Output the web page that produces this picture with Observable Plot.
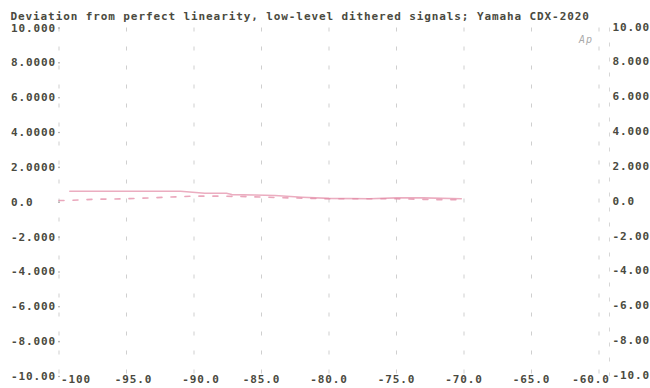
<!DOCTYPE html>
<html>
<head>
<meta charset="utf-8">
<script src="https://cdn.jsdelivr.net/npm/d3@7"></script>
<script src="https://cdn.jsdelivr.net/npm/@observablehq/plot@0.6"></script>
<style>
  html, body { margin: 0; padding: 0; background: #fff; }
</style>
</head>
<body>
<div id="chart"></div>
<script>
const title = "Deviation from perfect linearity, low-level dithered signals; Yamaha CDX-2020";
const xTicks = [-100, -95, -90, -85, -80, -75, -70, -65, -60];
const xLabels = ["-100", "-95.0", "-90.0", "-85.0", "-80.0", "-75.0", "-70.0", "-65.0", "-60.0"];
const yTicks = [10, 8, 6, 4, 2, 0, -2, -4, -6, -8, -10];
const yLabelsLeft = ["10.000", "8.0000", "6.0000", "4.0000", "2.0000", "0.0", "-2.000", "-4.000", "-6.000", "-8.000", "-10.00"];
const yLabelsRight = ["10.00", "8.000", "6.000", "4.000", "2.000", "0.0", "-2.00", "-4.00", "-6.00", "-8.00", "-10.0"];

// solid trace (one channel)
const solidX = [-99.2, -95, -91, -89.2, -87.6, -87.2, -85.5, -84, -82, -80, -77, -75, -73, -70.2];
const solidY = [0.63, 0.63, 0.63, 0.52, 0.52, 0.44, 0.42, 0.39, 0.29, 0.22, 0.2, 0.25, 0.25, 0.2];
// dashed trace (other channel)
const dashedX = [-100, -99.3, -97.5, -95, -90, -88, -86, -83, -80, -77, -75, -72, -70.2];
const dashedY = [0.10, 0.10, 0.17, 0.20, 0.35, 0.35, 0.32, 0.25, 0.20, 0.20, 0.20, 0.15, 0.15];

const solid = solidX.map((x, i) => ({x, y: solidY[i]}));
const dashed = dashedX.map((x, i) => ({x, y: dashedY[i]}));
const ticks = xTicks.map((x, i) => ({x, label: xLabels[i]}));
const yl = yTicks.map((y, i) => ({y, left: yLabelsLeft[i], right: yLabelsRight[i]}));

const ink = "#4a4a40";
const pink = "#e38aa5";

const xLabelMark = (filter, dx) => Plot.text(ticks.filter(filter), {
  x: "x", text: "label", frameAnchor: "bottom", textAnchor: "middle",
  lineAnchor: "middle", dy: 3, dx, fill: ink
});

const chart = Plot.plot({
  width: 650,
  height: 388,
  marginLeft: 58.5,
  marginRight: 51.5,
  marginTop: 27.5,
  marginBottom: 12,
  x: {domain: [-100, -60], axis: null},
  y: {domain: [-10, 10], axis: null},
  style: {
    fontFamily: "'DejaVu Sans Mono', monospace",
    fontSize: "11px",
    fontWeight: "bold",
    letterSpacing: "0.9px",
    color: ink,
    background: "#fff",
    overflow: "visible"
  },
  marks: [
    Plot.ruleX(xTicks, {stroke: "#cfcfcf", strokeWidth: 1, strokeDasharray: "4,15"}),
    Plot.ruleX([-60], {dx: 10.5, stroke: "#d6d6d6", strokeWidth: 1, strokeDasharray: "4,11"}),
    Plot.dot(yTicks, {x: () => -100, y: d => d, r: 0.8, fill: "#999", stroke: null}),
    Plot.line(dashed, {x: "x", y: "y", stroke: pink, strokeWidth: 1.6, strokeDasharray: "5,9", strokeOpacity: 0.75}),
    Plot.line(solid, {x: "x", y: "y", stroke: pink, strokeWidth: 1.6, strokeOpacity: 0.7}),
    Plot.text([title], {text: d => d, frameAnchor: "top-left", textAnchor: "start", lineAnchor: "middle", dx: -48.5, dy: -11.5, fill: ink}),
    Plot.text(yl, {y: "y", text: "left", frameAnchor: "left", textAnchor: "start", lineAnchor: "middle", dx: -48, fill: ink}),
    Plot.text(yl, {y: "y", text: "right", frameAnchor: "right", textAnchor: "start", lineAnchor: "middle", dx: 13.5, dy: -1, fill: ink}),
    xLabelMark(d => d.x === -100, 17),
    xLabelMark(d => d.x === -95 || d.x === -90, 7),
    xLabelMark(d => d.x > -90 && d.x < -60, 0),
    xLabelMark(d => d.x === -60, -8),
    Plot.text(["Ap"], {text: d => d, frameAnchor: "top-right", textAnchor: "middle", lineAnchor: "middle", dx: -13, dy: 12, fill: "#aaa", fontWeight: "normal", fontStyle: "italic", fontSize: 10})
  ]
});
document.getElementById("chart").appendChild(chart);
</script>
</body>
</html>
